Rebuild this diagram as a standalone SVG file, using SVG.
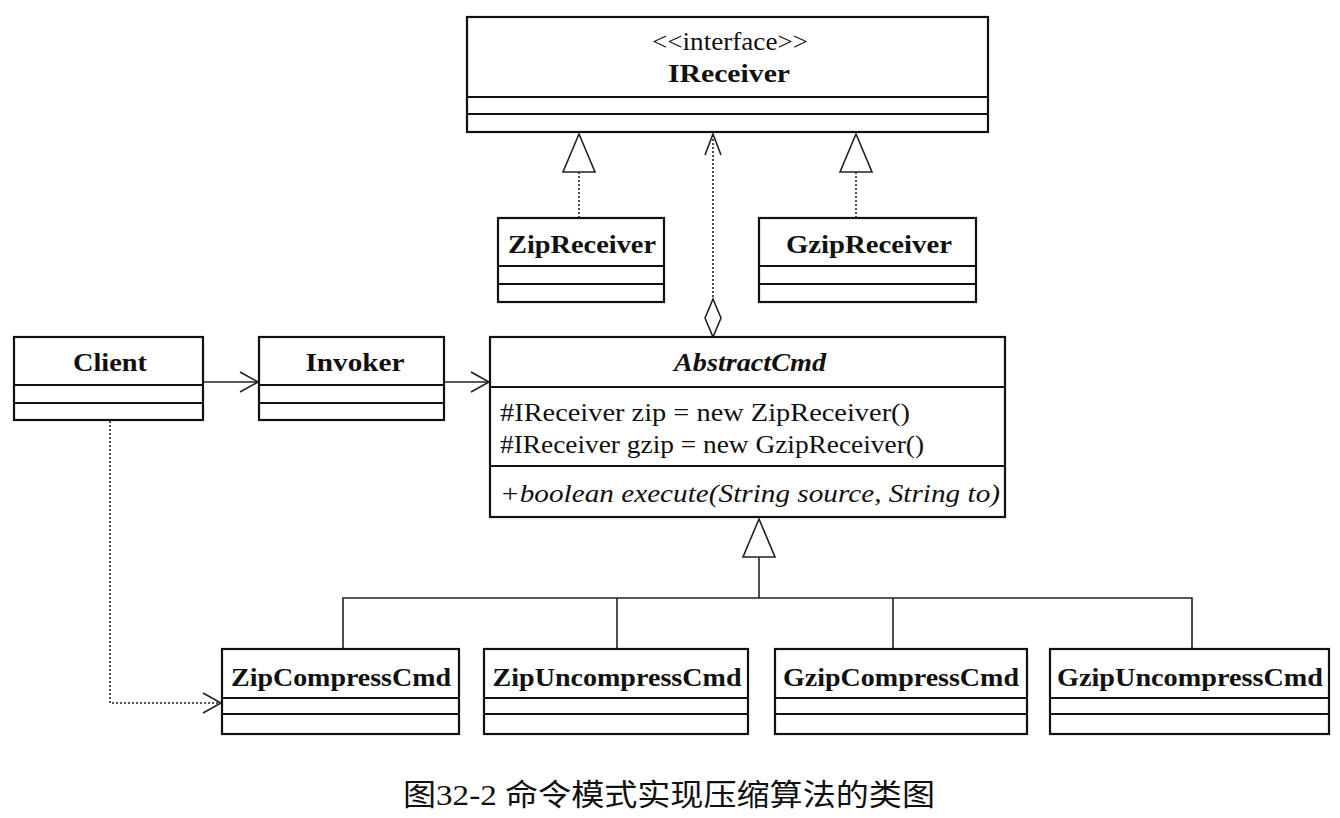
<svg xmlns="http://www.w3.org/2000/svg" width="1340" height="818" viewBox="0 0 1340 818">
<style>
.box{fill:#fff;stroke:#111;stroke-width:2.2}
.sep{stroke:#111;stroke-width:2.2;fill:none}
.name{font-family:'Times New Roman','Liberation Serif',serif;font-weight:bold;font-size:26px;fill:#111;text-anchor:middle}
.reg{font-family:'Times New Roman','Liberation Serif',serif;font-size:26px;fill:#111}
.conn{stroke:#222;stroke-width:1.6;fill:none}
.dot{stroke:#222;stroke-width:1.6;fill:none;stroke-dasharray:2 2}
.tri{fill:#fff;stroke:#222;stroke-width:1.6}
.cap{font-family:'Times New Roman','Liberation Serif','Noto Sans CJK SC',serif;font-size:30px;fill:#111;text-anchor:middle}
</style>
<rect width="1340" height="818" fill="#fff"/>

<g id="connectors">
  <line class="dot" x1="579" y1="172" x2="579" y2="218"/>
  <polygon class="tri" points="579,134 563,172 595,172"/>
  <line class="dot" x1="856" y1="172" x2="856" y2="218"/>
  <polygon class="tri" points="856,134 840,172 872,172"/>
  <line class="dot" x1="713" y1="135" x2="713" y2="299"/>
  <polyline class="conn" points="705,155 713,134 721,155"/>
  <polygon class="tri" points="713,299 721,318 713,337 705,318"/>
  <line class="conn" x1="203" y1="382" x2="258" y2="382"/>
  <polyline class="conn" points="240,372 258,382 240,392"/>
  <line class="conn" x1="444" y1="382" x2="489" y2="382"/>
  <polyline class="conn" points="471,372 489,382 471,392"/>
  <polyline class="dot" points="110,421 110,703 221,703"/>
  <polyline class="conn" points="203,693 221,703 203,713"/>
  <polygon class="tri" points="759,519 743,557 775,557"/>
  <line class="conn" x1="759" y1="557" x2="759" y2="598"/>
  <polyline class="conn" points="343,649 343,598 1192,598 1192,649"/>
  <line class="conn" x1="617" y1="598" x2="617" y2="649"/>
  <line class="conn" x1="893" y1="598" x2="893" y2="649"/>
</g>

<g id="IReceiver">
  <rect class="box" x="467" y="17" width="521" height="115"/>
  <line class="sep" x1="467" y1="97" x2="988" y2="97"/>
  <line class="sep" x1="467" y1="114" x2="988" y2="114"/>
  <text class="reg" x="730" y="50" text-anchor="middle" font-size="23" textLength="156" lengthAdjust="spacingAndGlyphs">&lt;&lt;interface&gt;&gt;</text>
  <text class="name" x="729" y="82" textLength="122" lengthAdjust="spacingAndGlyphs">IReceiver</text>
</g>

<g id="ZipReceiver">
  <rect class="box" x="498" y="218" width="166" height="84"/>
  <line class="sep" x1="498" y1="266" x2="664" y2="266"/>
  <line class="sep" x1="498" y1="284" x2="664" y2="284"/>
  <text class="name" x="582" y="253" textLength="148" lengthAdjust="spacingAndGlyphs">ZipReceiver</text>
</g>

<g id="GzipReceiver">
  <rect class="box" x="759" y="218" width="217" height="84"/>
  <line class="sep" x1="759" y1="266" x2="976" y2="266"/>
  <line class="sep" x1="759" y1="284" x2="976" y2="284"/>
  <text class="name" x="869" y="253" textLength="166" lengthAdjust="spacingAndGlyphs">GzipReceiver</text>
</g>

<g id="Client">
  <rect class="box" x="14" y="337" width="189" height="83"/>
  <line class="sep" x1="14" y1="385" x2="203" y2="385"/>
  <line class="sep" x1="14" y1="403" x2="203" y2="403"/>
  <text class="name" x="110" y="371" textLength="74" lengthAdjust="spacingAndGlyphs">Client</text>
</g>

<g id="Invoker">
  <rect class="box" x="259" y="337" width="185" height="83"/>
  <line class="sep" x1="259" y1="385" x2="444" y2="385"/>
  <line class="sep" x1="259" y1="403" x2="444" y2="403"/>
  <text class="name" x="355" y="371" textLength="99" lengthAdjust="spacingAndGlyphs">Invoker</text>
</g>

<g id="AbstractCmd">
  <rect class="box" x="490" y="337" width="515" height="180"/>
  <line class="sep" x1="490" y1="387" x2="1005" y2="387"/>
  <line class="sep" x1="490" y1="466" x2="1005" y2="466"/>
  <text class="name" x="750" y="371" font-style="italic" textLength="152" lengthAdjust="spacingAndGlyphs">AbstractCmd</text>
  <text class="reg" x="500" y="421" textLength="410" lengthAdjust="spacingAndGlyphs">#IReceiver zip = new ZipReceiver()</text>
  <text class="reg" x="500" y="453" textLength="424" lengthAdjust="spacingAndGlyphs">#IReceiver gzip = new GzipReceiver()</text>
  <text class="reg" x="500" y="502" font-style="italic" textLength="500" lengthAdjust="spacingAndGlyphs">+boolean execute(String source, String to)</text>
</g>

<g id="ZipCompressCmd">
  <rect class="box" x="222" y="649" width="237" height="85"/>
  <line class="sep" x1="222" y1="698" x2="459" y2="698"/>
  <line class="sep" x1="222" y1="714" x2="459" y2="714"/>
  <text class="name" x="341" y="686" textLength="220" lengthAdjust="spacingAndGlyphs">ZipCompressCmd</text>
</g>

<g id="ZipUncompressCmd">
  <rect class="box" x="484" y="649" width="264" height="85"/>
  <line class="sep" x1="484" y1="698" x2="748" y2="698"/>
  <line class="sep" x1="484" y1="714" x2="748" y2="714"/>
  <text class="name" x="617" y="686" textLength="249" lengthAdjust="spacingAndGlyphs">ZipUncompressCmd</text>
</g>

<g id="GzipCompressCmd">
  <rect class="box" x="775" y="649" width="252" height="85"/>
  <line class="sep" x1="775" y1="698" x2="1027" y2="698"/>
  <line class="sep" x1="775" y1="714" x2="1027" y2="714"/>
  <text class="name" x="901" y="686" textLength="236" lengthAdjust="spacingAndGlyphs">GzipCompressCmd</text>
</g>

<g id="GzipUncompressCmd">
  <rect class="box" x="1050" y="649" width="279" height="85"/>
  <line class="sep" x1="1050" y1="698" x2="1329" y2="698"/>
  <line class="sep" x1="1050" y1="714" x2="1329" y2="714"/>
  <text class="name" x="1190" y="686" textLength="266" lengthAdjust="spacingAndGlyphs">GzipUncompressCmd</text>
</g>

<text class="cap" x="669" y="805" textLength="532" lengthAdjust="spacingAndGlyphs">图32-2 命令模式实现压缩算法的类图</text>
</svg>
